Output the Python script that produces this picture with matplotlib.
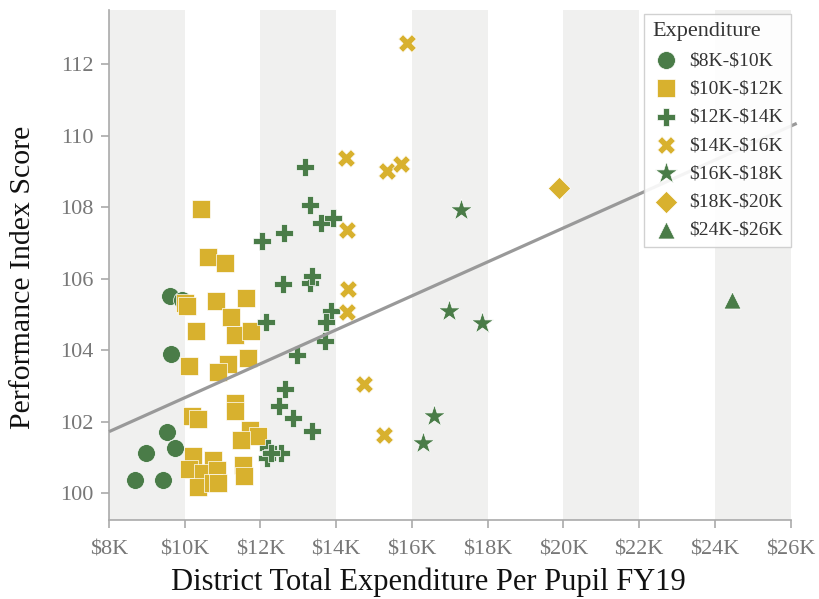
import matplotlib
matplotlib.use("Agg")
import matplotlib.pyplot as plt
import numpy as np

# ---- data ----
labels = [r"\$8K-\$10K", r"\$10K-\$12K", r"\$12K-\$14K", r"\$14K-\$16K",
          r"\$16K-\$18K", r"\$18K-\$20K", r"\$24K-\$26K"]

x_8_10 = [9.61, 9.92, 9.65, 9.52, 9.74, 8.98, 8.69, 9.43]
y_8_10 = [105.50, 105.39, 103.90, 101.71, 101.27, 101.11, 100.36, 100.38]

x_10_12 = [10.42, 10.62, 11.06, 10.01, 10.05, 10.82, 11.63, 11.22, 10.31, 11.32,
           11.74, 10.12, 11.13, 10.89, 11.67, 11.32, 11.32, 10.18, 10.36, 11.72,
           11.94, 11.48, 10.22, 10.75, 10.12, 10.49, 10.84, 11.53, 11.57, 10.34,
           10.74, 10.89]
y_10_12 = [107.95, 106.60, 106.44, 105.32, 105.22, 105.36, 105.46, 104.92, 104.54, 104.43,
           104.53, 103.55, 103.60, 103.38, 103.78, 102.53, 102.29, 102.15, 102.08, 101.78,
           101.59, 101.50, 101.03, 100.94, 100.68, 100.57, 100.66, 100.80, 100.47, 100.18,
           100.29, 100.29]

x_12_14 = [13.17, 13.30, 13.59, 13.91, 12.62, 12.03, 12.60, 13.30, 13.35, 12.14,
           13.87, 13.72, 13.70, 12.97, 12.64, 12.49, 12.86, 13.36, 12.20, 12.16,
           12.55, 12.29]
y_12_14 = [109.13, 108.06, 107.55, 107.69, 107.27, 107.04, 105.86, 105.88, 106.06, 104.78,
           105.08, 104.78, 104.25, 103.85, 102.90, 102.43, 102.11, 101.73, 101.27, 100.99,
           101.13, 101.13]

x_14_16 = [15.87, 14.27, 15.34, 15.72, 14.28, 14.31, 14.28, 14.73, 15.26]
y_14_16 = [112.58, 109.37, 109.02, 109.21, 107.37, 105.71, 105.06, 103.04, 101.64]

x_16_18 = [17.30, 16.99, 17.85, 16.58, 16.29]
y_16_18 = [107.92, 105.10, 104.76, 102.15, 101.41]

x_18_20 = [19.88]
y_18_20 = [108.53]

x_24_26 = [24.45]
y_24_26 = [105.39]

# trend line end points
trend_x = [8.0, 26.16]
trend_y = [101.72, 110.34]

xticks = [8, 10, 12, 14, 16, 18, 20, 22, 24, 26]
yticks = [100, 102, 104, 106, 108, 110, 112]

# ---- style ----
GREEN = "#4a7c48"
GOLD = "#d8b12e"
plt.rcParams["font.family"] = ["Liberation Serif", "DejaVu Serif"]

groups = [
    (x_8_10, y_8_10, "o", GREEN, 165),
    (x_10_12, y_10_12, "s", GOLD, 165),
    (x_12_14, y_12_14, "P", GREEN, 175),
    (x_14_16, y_14_16, "X", GOLD, 165),
    (x_16_18, y_16_18, "*", GREEN, 280),
    (x_18_20, y_18_20, "D", GOLD, 130),
    (x_24_26, y_24_26, "^", GREEN, 150),
]

fig = plt.figure(figsize=(8.19, 5.99), dpi=100)
ax = fig.add_axes([0.1331, 0.1319, 0.8323, 0.8514])

# alternating background bands
for i, left in enumerate(xticks[:-1]):
    if i % 2 == 0:
        ax.axvspan(left, left + 2, color="#f0f0ef", lw=0, zorder=0)

ax.plot(trend_x, trend_y, color="#999999", lw=2.3, zorder=4, clip_on=False,
        solid_capstyle="butt")

for (xs, ys, m, c, s), lab in zip(groups, labels):
    ax.scatter(xs, ys, marker=m, s=s, color=c, edgecolors="white",
               linewidths=0.5, label=lab, zorder=3)

ax.set_xlim(8, 26)
ax.set_ylim(99.25, 113.51)
ax.set_xticks(xticks)
ax.set_xticklabels([r"\$%dK" % v for v in xticks])
ax.set_yticks(yticks)

for side in ["top", "right"]:
    ax.spines[side].set_visible(False)
for side in ["left", "bottom"]:
    ax.spines[side].set_color("#aaaaaa")
    ax.spines[side].set_linewidth(1.2)
ax.tick_params(colors="#aaaaaa", labelcolor="#777777", labelsize=16,
               length=6, width=1.2)
ax.tick_params(axis="x", pad=9)
ax.tick_params(axis="y", pad=5)

ax.set_xlabel("District Total Expenditure Per Pupil FY19", fontsize=22,
              color="#111111")
ax.xaxis.set_label_coords(0.469, -0.094)
ax.set_ylabel("Performance Index Score", fontsize=21.5, color="#111111")
ax.yaxis.set_label_coords(-0.107, 0.475)

leg = ax.legend(title="Expenditure", loc="upper right", bbox_to_anchor=(1.0, 0.992),
                borderaxespad=0, fontsize=14, title_fontsize=16, alignment="left",
                labelspacing=0.55, handletextpad=0.5, handlelength=1.4,
                borderpad=0.4, fancybox=False, edgecolor="#cccccc", framealpha=0.9)
leg.get_frame().set_linewidth(1.0)
for t in leg.get_texts():
    t.set_color("#333333")
leg.get_title().set_color("#333333")

plt.savefig("out.png", dpi=100)
